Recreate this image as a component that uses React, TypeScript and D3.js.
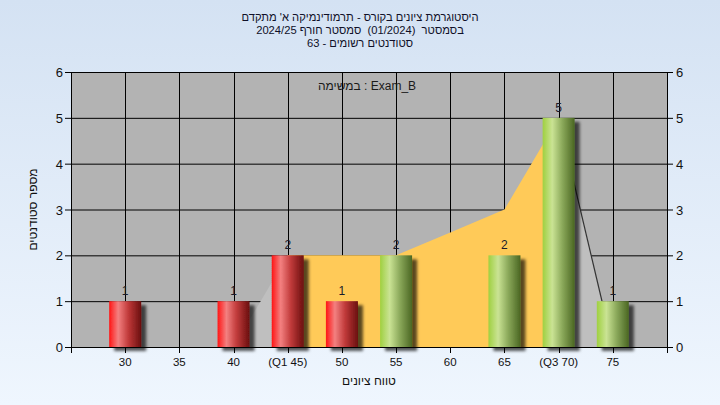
import React from 'react'
import * as d3 from 'd3'

// chart values
const categories = [30, 35, 40, 45, 50, 55, 60, 65, 70, 75]
const counts = [1, 0, 1, 2, 1, 2, 0, 2, 5, 1]
const tickLabels = ['30', '35', '40', '(Q1 45)', '50', '55', '60', '65', '(Q3 70)', '75']
const curveValues = [0, 0, 0, 2, 2, 2, 2.5, 3, 5, 0]
const yTicks = [0, 1, 2, 3, 4, 5, 6]
const xTickValues = [25, 30, 35, 40, 45, 50, 55, 60, 65, 70, 75, 80]
const q1 = 45
const q3 = 70
const passMark = 55

const titleLines = [
  "היסטוגרמת ציונים בקורס - תרמודינמיקה א' מתקדם",
  'בסמסטר  (01/2024)  סמסטר חורף 2024/25',
  'סטודנטים רשומים - 63',
]
const legendText = 'במשימה : Exam_B'
const xTitle = 'טווח ציונים'
const yTitle = 'מספר סטודנטים'

const W = 720
const H = 405
const margin = { top: 72, right: 53, bottom: 58, left: 71 }
const FONT = '"Liberation Sans", Arial, sans-serif'

export default function App() {
  const x = d3.scaleLinear().domain([25, 80]).range([margin.left, W - margin.right])
  const y = d3.scaleLinear().domain([0, 6]).range([H - margin.bottom, margin.top])
  const x0 = x.range()[0]
  const x1 = x.range()[1]
  const y0 = y(0)
  const yTop = y(6)
  const barW = 32

  const pts = categories.map((c, i) => ({ c, v: curveValues[i] }))
  const area = d3.area<{ c: number; v: number }>()
    .x(d => x(d.c))
    .y0(y0)
    .y1(d => y(d.v))
  const line = d3.line<{ c: number; v: number }>()
    .x(d => x(d.c))
    .y(d => y(d.v))

  // grey outside the inter-quartile range, yellow inside it
  const leftPts = pts.filter(d => d.c <= q1)
  const midPts = pts.filter(d => d.c >= q1 && d.c <= q3)
  const rightPts = pts.filter(d => d.c >= q3)

  return (
    <svg
      width={W}
      height={H}
      style={{ position: 'absolute', left: 0, top: 0, display: 'block' }}
      fontFamily={FONT}
    >
      <defs>
        <linearGradient id="bg" x1="0" y1="0" x2="0" y2="1">
          <stop offset="0%" stopColor="#d4e2f3" />
          <stop offset="100%" stopColor="#eff6fe" />
        </linearGradient>
        <linearGradient id="red" x1="0" y1="0" x2="1" y2="0">
          <stop offset="0%" stopColor="#ff1414" />
          <stop offset="28%" stopColor="#f38080" />
          <stop offset="60%" stopColor="#c03a3a" />
          <stop offset="100%" stopColor="#6a0e0e" />
        </linearGradient>
        <linearGradient id="green" x1="0" y1="0" x2="1" y2="0">
          <stop offset="0%" stopColor="#9fd040" />
          <stop offset="30%" stopColor="#cae394" />
          <stop offset="62%" stopColor="#8aa85a" />
          <stop offset="100%" stopColor="#4a6622" />
        </linearGradient>
        <filter id="shadow" x="-30%" y="-30%" width="160%" height="160%">
          <feDropShadow dx="5" dy="4" stdDeviation="1.8" floodColor="#000" floodOpacity="0.65" />
        </filter>
      </defs>

      <rect x={0} y={0} width={W} height={H} fill="url(#bg)" />

      {/* titles */}
      {titleLines.map((t, i) => (
        <text key={i} x={W / 2} y={21 + i * 13} textAnchor="middle" direction="rtl"
          xmlSpace="preserve" fontSize={11.2} fill="#101028">{t}</text>
      ))}

      {/* plot area */}
      <rect x={x0} y={yTop} width={x1 - x0} height={y0 - yTop} fill="#b3b3b3" />

      {/* grid */}
      {yTicks.map(t => (
        <line key={'gy' + t} x1={x0} x2={x1} y1={y(t) + 0.5} y2={y(t) + 0.5} stroke="#000" />
      ))}
      {xTickValues.map(t => (
        <line key={'gx' + t} x1={Math.round(x(t)) + 0.5} x2={Math.round(x(t)) + 0.5} y1={yTop} y2={y0} stroke="#000" />
      ))}

      {/* distribution area */}
      <path d={area(leftPts) || ''} fill="#bfbfbf" />
      <path d={area(rightPts) || ''} fill="#bfbfbf" />
      <path d={area(midPts) || ''} fill="#ffca58" />
      <path d={line(rightPts) || ''} fill="none" stroke="#333" strokeWidth={1.2} />

      <text x={(x0 + x1) / 2 - 2} y={90} textAnchor="middle" fontSize={12} fill="#1a1a1a">{legendText}</text>

      {/* axes */}
      <line x1={x0} x2={x1} y1={y0 + 0.5} y2={y0 + 0.5} stroke="#000" />
      <line x1={x0 + 0.5} x2={x0 + 0.5} y1={yTop} y2={y0} stroke="#000" />
      <line x1={x1 + 0.5} x2={x1 + 0.5} y1={yTop} y2={y0} stroke="#000" />
      {xTickValues.map(t => (
        <line key={'tx' + t} x1={Math.round(x(t)) + 0.5} x2={Math.round(x(t)) + 0.5} y1={y0} y2={y0 + 6} stroke="#000" />
      ))}
      {yTicks.map(t => (
        <g key={'ty' + t}>
          <line x1={x0 - 6} x2={x0} y1={y(t) + 0.5} y2={y(t) + 0.5} stroke="#000" />
          <line x1={x1} x2={x1 + 6} y1={y(t) + 0.5} y2={y(t) + 0.5} stroke="#000" />
          <text x={x0 - 8} y={y(t) + 5} textAnchor="end" fontSize={13} fill="#111">{t}</text>
          <text x={x1 + 9} y={y(t) + 5} textAnchor="start" fontSize={13} fill="#111">{t}</text>
        </g>
      ))}
      {categories.map((c, i) => (
        <text key={'xl' + c} x={x(c)} y={y0 + 19} textAnchor="middle" fontSize={11.5} fill="#111">{tickLabels[i]}</text>
      ))}

      {/* bars */}
      {categories.map((c, i) => counts[i] > 0 && (
        <g key={'b' + c}>
          <rect x={x(c) - barW / 2} y={y(counts[i])} width={barW} height={y0 - y(counts[i])}
            fill={c < passMark ? 'url(#red)' : 'url(#green)'} filter="url(#shadow)" />
          <text x={x(c)} y={y(counts[i]) - 6} textAnchor="middle" fontSize={12} fill="#1a1a2a">{counts[i]}</text>
        </g>
      ))}

      {/* axis titles */}
      <text x={(x0 + x1) / 2} y={385} textAnchor="middle" direction="rtl" fontSize={12} fill="#111">{xTitle}</text>
      <text transform={`translate(37,${(y0 + yTop) / 2}) rotate(-90)`} textAnchor="middle" direction="rtl"
        fontSize={12} fill="#111">{yTitle}</text>
    </svg>
  )
}
